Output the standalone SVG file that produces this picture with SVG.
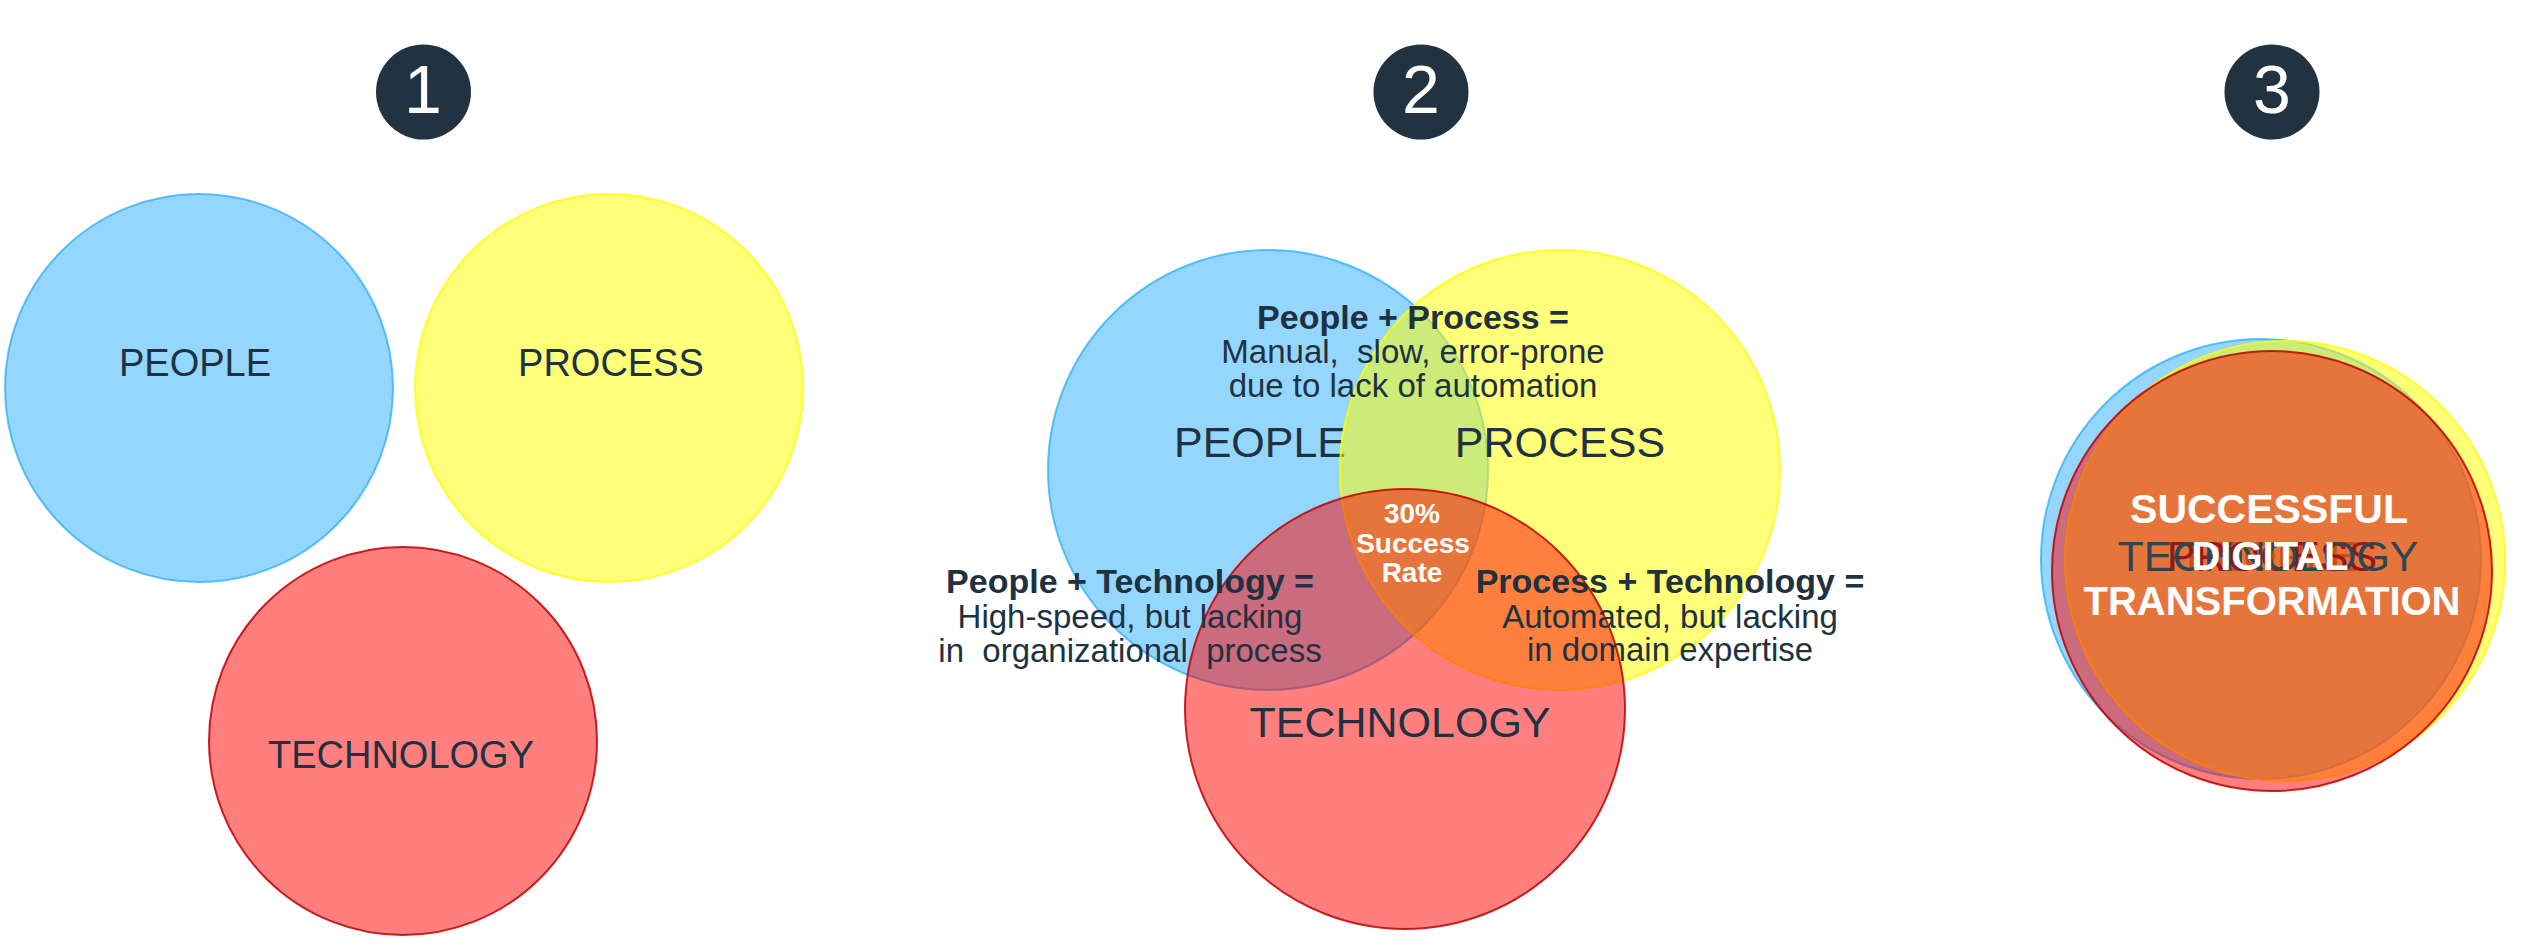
<svg xmlns="http://www.w3.org/2000/svg" width="2521" height="947" viewBox="0 0 2521 947">
<style>
.bg{fill:#ffffff}
.blue{fill:#29adfb;fill-opacity:.5;stroke:#29adfb;stroke-opacity:.75;stroke-width:2}
.yellow{fill:#ffff00;fill-opacity:.52;stroke:#ffff00;stroke-opacity:.8;stroke-width:2}
.red{fill:#ff0000;fill-opacity:.5;stroke:#c00000;stroke-opacity:.85;stroke-width:2}
.badge{fill:#213241}
.num{font-family:"Liberation Sans",Arial,sans-serif;font-size:68px;fill:#ffffff;text-anchor:middle}
.lbl{font-family:"Liberation Sans",Arial,sans-serif;fill:#203141;text-anchor:middle}
.big1{font-size:38px}
.big2{font-size:43px}
.b{font-weight:bold;font-size:34px}
.r{font-size:33px}
.w{font-family:"Liberation Sans",Arial,sans-serif;font-weight:bold;fill:#ffffff;text-anchor:middle}
</style>
<rect class="bg" x="0" y="0" width="2521" height="947"/>

<!-- Badges -->
<g id="badge1"><circle class="badge" cx="423.5" cy="92" r="47.5"/><text class="num" x="423" y="113">1</text></g>
<g id="badge2"><circle class="badge" cx="1421" cy="92" r="47.5"/><text class="num" x="1421" y="113">2</text></g>
<g id="badge3"><circle class="badge" cx="2272" cy="92" r="47.5"/><text class="num" x="2272" y="113">3</text></g>

<!-- Panel 1 -->
<g id="p1-people"><circle class="blue" cx="199" cy="388" r="194"/><text class="lbl big1" x="195" y="376">PEOPLE</text></g>
<g id="p1-process"><circle class="yellow" cx="609" cy="388" r="194"/><text class="lbl big1" x="611" y="376">PROCESS</text></g>
<g id="p1-technology"><circle class="red" cx="403" cy="741" r="194"/><text class="lbl big1" x="401" y="768">TECHNOLOGY</text></g>

<!-- Panel 2 -->
<g id="p2-people"><circle class="blue" cx="1268" cy="470" r="220"/><text class="lbl big2" x="1260" y="457">PEOPLE</text></g>
<g id="p2-process"><circle class="yellow" cx="1560" cy="470" r="220"/><text class="lbl big2" x="1560" y="457">PROCESS</text></g>
<g id="p2-technology"><circle class="red" cx="1405" cy="709" r="220"/><text class="lbl big2" x="1400" y="737">TECHNOLOGY</text></g>
<g id="p2-people-process">
<text class="lbl b" x="1413" y="329">People + Process =</text>
<text class="lbl r" x="1413" y="363">Manual,&#160; slow, error-prone</text>
<text class="lbl r" x="1413" y="397">due to lack of automation</text>
</g>
<g id="p2-people-technology">
<text class="lbl b" x="1130" y="593">People + Technology =</text>
<text class="lbl r" x="1130" y="628">High-speed, but lacking</text>
<text class="lbl r" x="1130" y="662">in&#160; organizational&#160; process</text>
</g>
<g id="p2-process-technology">
<text class="lbl b" x="1670" y="593">Process + Technology =</text>
<text class="lbl r" x="1670" y="628">Automated, but lacking</text>
<text class="lbl r" x="1670" y="661">in domain expertise</text>
</g>
<g id="p2-success">
<text class="w" font-size="28" x="1412" y="523">30%</text>
<text class="w" font-size="28" x="1413" y="553">Success</text>
<text class="w" font-size="28" x="1412" y="582">Rate</text>
</g>

<!-- Panel 3 -->
<g id="p3-people"><circle class="blue" cx="2261" cy="559" r="220"/><text class="lbl big2" x="2272" y="571">PEOPLE</text></g>
<g id="p3-process"><circle class="yellow" cx="2285" cy="561" r="220"/><text class="lbl big2" x="2272" y="571">PROCESS</text></g>
<g id="p3-technology"><circle class="red" cx="2272" cy="571" r="220"/><text class="lbl big2" x="2268" y="571" style="fill:#2d4653">TECHNOLOGY</text></g>
<g id="p3-result">
<text class="w" font-size="41" x="2269" y="523">SUCCESSFUL</text>
<text class="w" font-size="40" x="2270" y="570">DIGITAL</text>
<text class="w" font-size="40" x="2272" y="615">TRANSFORMATION</text>
</g>

<g id="connectors"></g>
</svg>
